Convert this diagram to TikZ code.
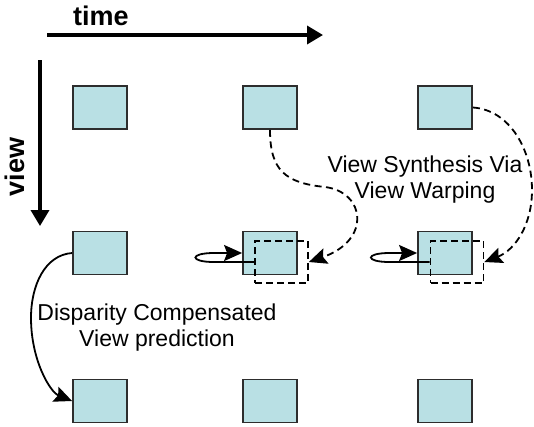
\documentclass[tikz,border=0pt]{standalone}
\usepackage{fontspec}
\setmainfont{Liberation Sans}
\usetikzlibrary{arrows.meta}
\definecolor{framefill}{RGB}{185,224,228}
\definecolor{frameline}{RGB}{45,45,45}

\begin{document}
\begin{tikzpicture}[x=1pt,y=-1pt,
  frame/.style={draw=frameline,line width=1.8pt,fill=framefill,
    minimum width=54pt,minimum height=43pt,inner sep=0pt},
  warpbox/.style={draw=black,dash pattern=on 7pt off 4pt,line width=1.7pt,
    minimum width=53pt,minimum height=42pt,inner sep=0pt},
  axis/.style={line width=3.5pt,-{Triangle[length=16pt,width=18pt]}},
  link/.style={line width=1.8pt,-{Stealth[length=18pt,width=16pt,inset=3pt]}},
  warp/.style={link,dash pattern=on 7pt off 4.5pt},
  label/.style={font=\fontsize{23}{26}\selectfont,align=center,inner sep=0pt},
  axislabel/.style={font=\fontsize{27}{30}\selectfont\bfseries,inner sep=0pt}]

% canvas
\fill[white,use as bounding box] (0,0) rectangle (534,426);

% axes
\coordinate (t0) at (47,35);
\coordinate (t1) at (323,35);
\coordinate (v0) at (40,60);
\coordinate (v1) at (40,226);
\draw[axis] (t0) -- (t1);
\draw[axis] (v0) -- (v1);
\node[axislabel,anchor=base] (timelabel) at (101,25) {time};
\node[axislabel,anchor=base,rotate=90] (viewlabel) at (24,167) {view};

% frames: rows = views, columns = time instants
\node[frame] (b11) at (100,107.5) {};
\node[frame] (b12) at (270,107.5) {};
\node[frame] (b13) at (445,107.5) {};
\node[frame] (b21) at (100,253) {};
\node[frame] (b22) at (270,253) {};
\node[frame] (b23) at (445,253) {};
\node[frame] (b31) at (100,401) {};
\node[frame] (b32) at (270,401) {};
\node[frame] (b33) at (445,401) {};

% synthesized (warped) views
\node[warpbox] (d22) at (281.5,262) {};
\node[warpbox] (d23) at (457,262) {};

% disparity compensated prediction
\draw[link] (b21.west) .. controls (45,255) and (31,285) .. (31,318)
  .. controls (31,360) and (50,392) .. (b31.west);

% view warping
\draw[warp] (b12.south) .. controls (270,170) and (285,183) .. (325,187)
  .. controls (365,192) and (372,240) .. (d22.east);
\draw[warp] (b13.east) .. controls (510,110) and (532,150) .. (532,190)
  .. controls (532,225) and (515,250) .. (d23.east);

% temporal self references
\draw[link] (d22.west) -- ++(-40,0)
  .. controls +(-25,0) and +(-25,0) .. ++(0,-9) -- (b22.west);
\draw[link] (d23.west) -- ++(-40,0)
  .. controls +(-25,0) and +(-25,0) .. ++(0,-9) -- (b23.west);

% labels
\node[label] (synth) at (425,180) {View Synthesis Via\\View Warping};
\node[label] (disp) at (157,328) {Disparity Compensated\\View prediction};
\end{tikzpicture}
\end{document}
